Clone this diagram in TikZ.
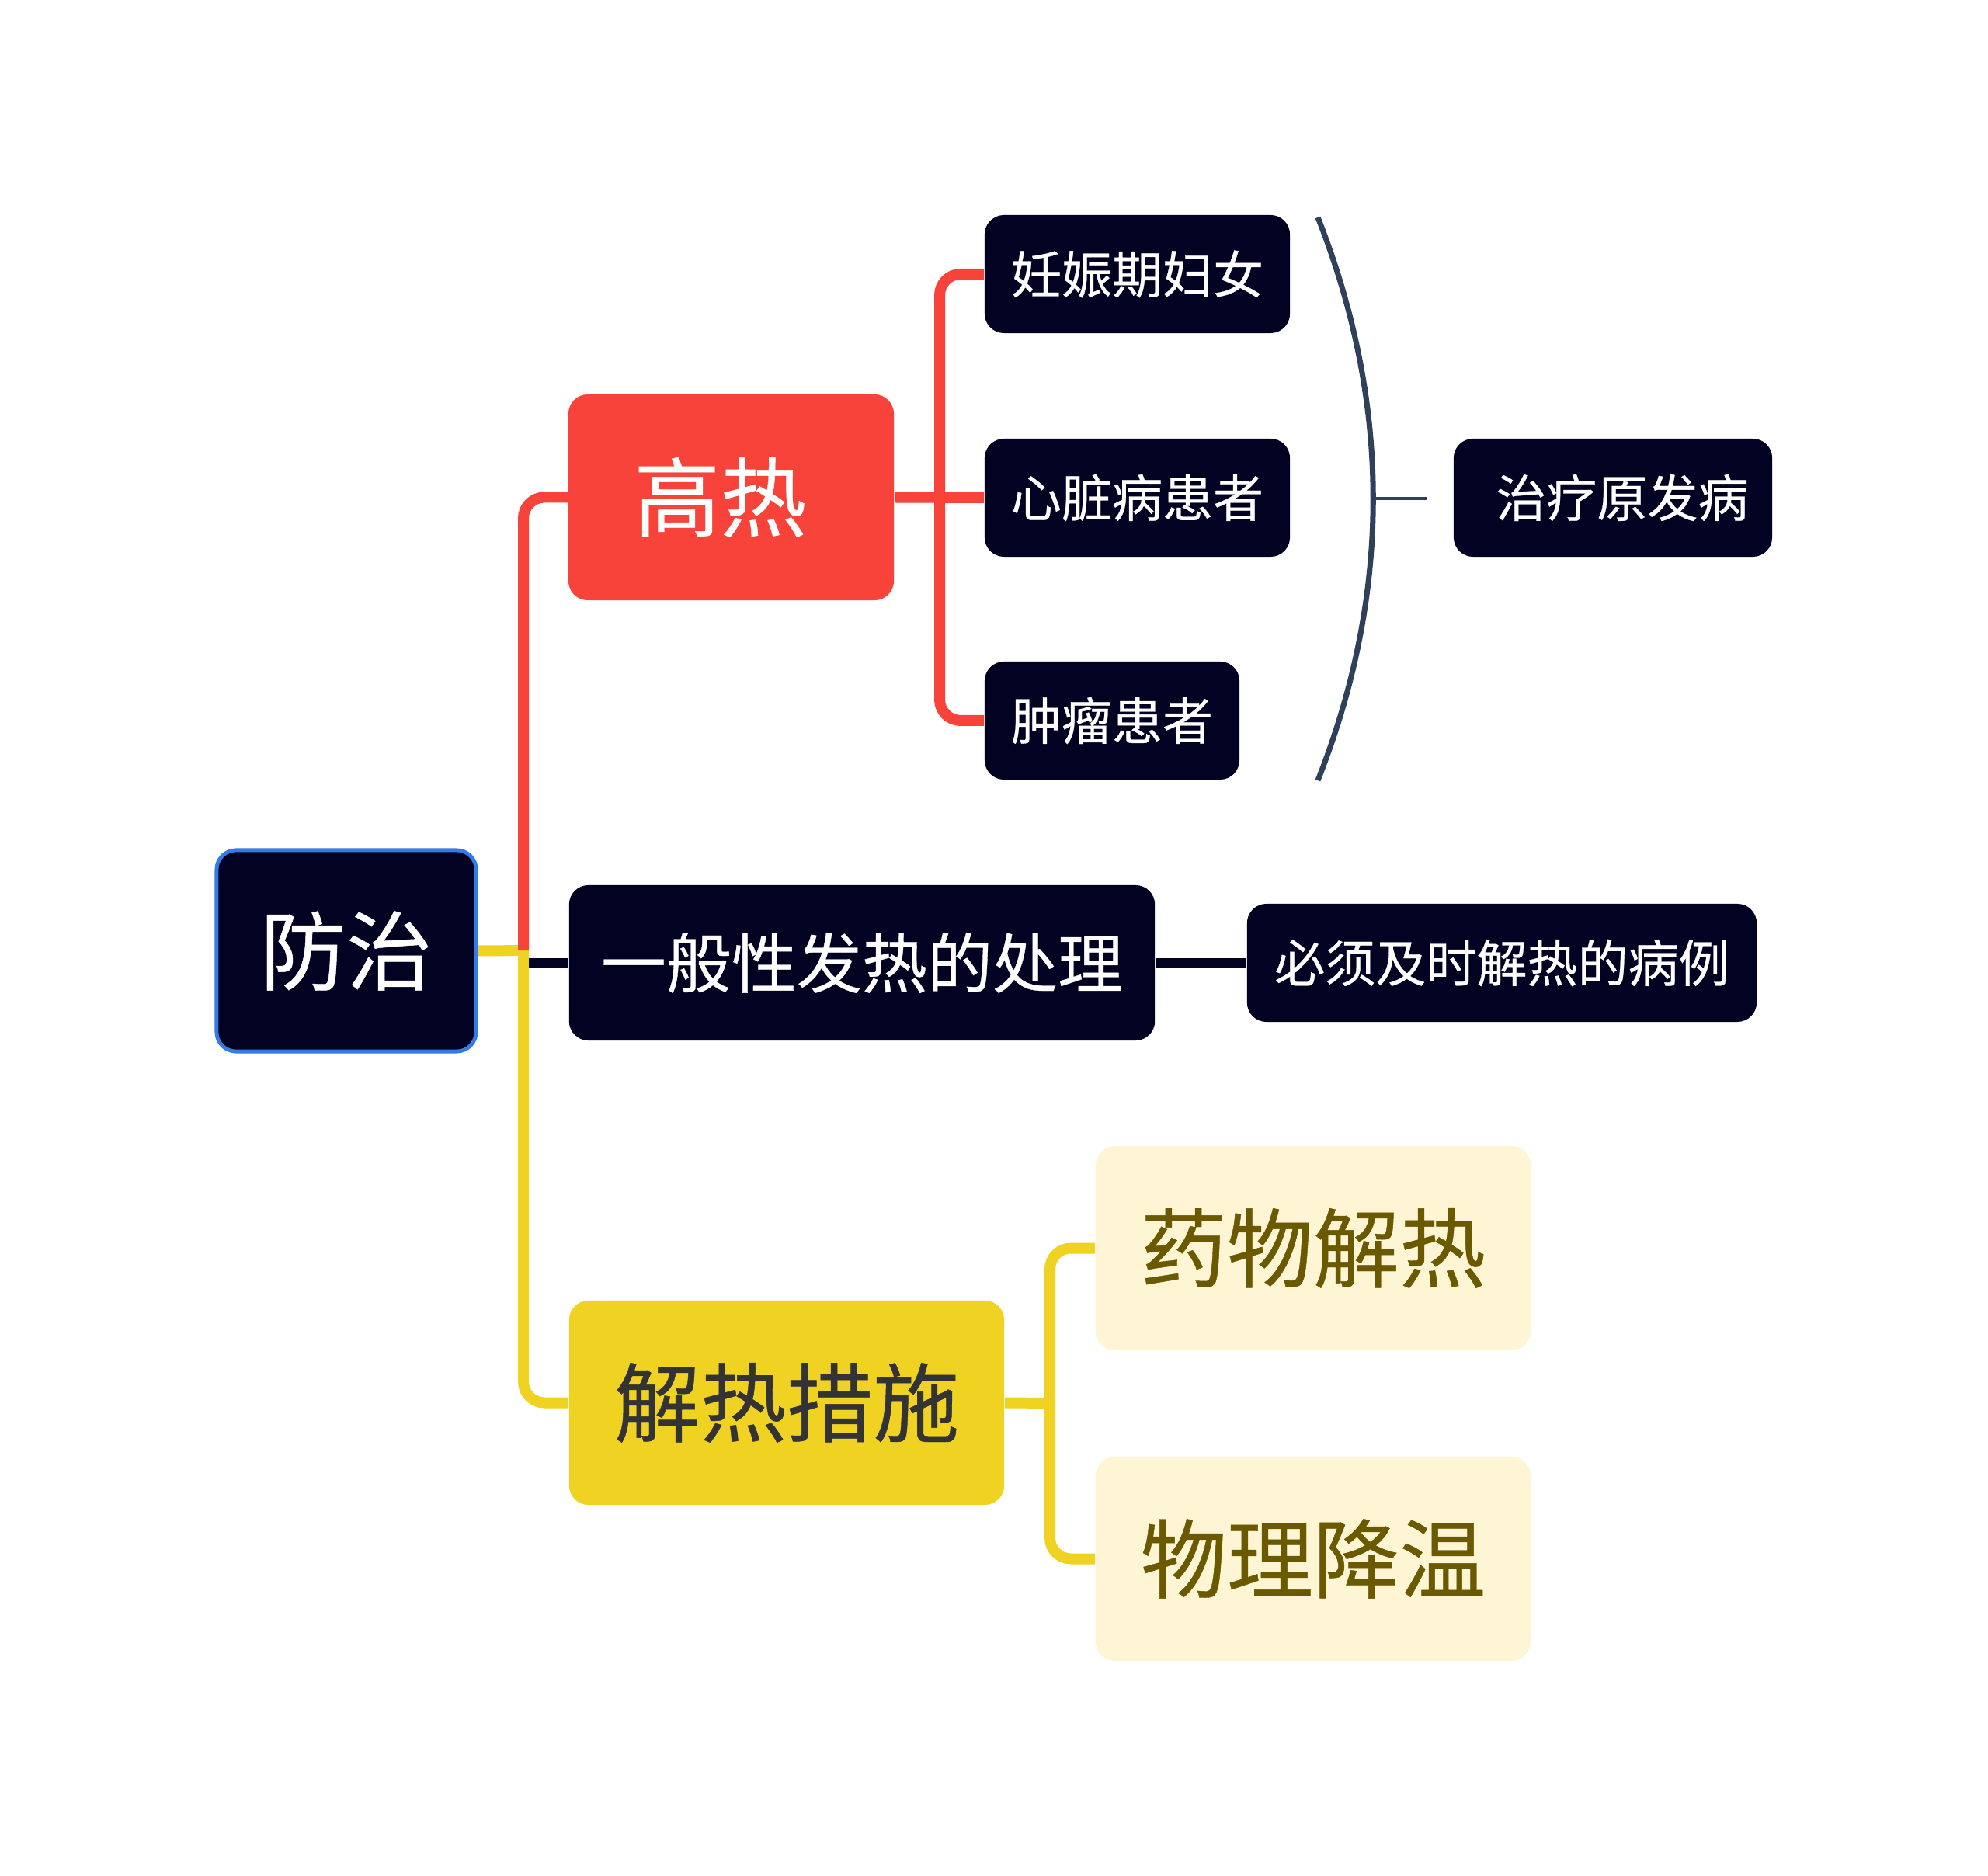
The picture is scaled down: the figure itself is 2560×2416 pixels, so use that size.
\documentclass[tikz,border=0pt]{standalone}
\usepackage{fontspec}
\newfontfamily\cjk[FakeBold=0.4]{Noto Sans CJK SC}
\newcommand\szbig{\fontsize{31.6pt}{32pt}\selectfont}
\newcommand\szmid{\fontsize{23.9pt}{24pt}\selectfont}
\newcommand\szsmall{\fontsize{18.5pt}{19pt}\selectfont}
\definecolor{navy}{RGB}{2,2,35}
\definecolor{rootblue}{RGB}{52,122,232}
\definecolor{hotred}{RGB}{247,67,58}
\definecolor{warmyellow}{RGB}{240,210,35}
\definecolor{paleyellow}{RGB}{253,245,212}
\definecolor{olive}{RGB}{107,89,0}
\definecolor{darkgray}{RGB}{51,51,51}
\definecolor{slate}{RGB}{47,64,90}
\begin{document}
\begin{tikzpicture}[x=0.01cm,y=-0.01cm,
  box/.style={rounded corners=0.25cm, inner sep=0pt, align=center},
  darkbox/.style={box, fill=navy, text=white, font=\cjk\szsmall, minimum height=1.52cm},
  bigbox/.style={box, font=\cjk\szbig, minimum height=2.63cm, minimum width=5.6cm},
  redline/.style={draw=hotred, line width=3.98pt, rounded corners=0.27cm},
  yelline/.style={draw=warmyellow, line width=3.98pt, rounded corners=0.27cm},
  navyline/.style={draw=navy, line width=3.5pt},
  bracket/.style={draw=slate, line width=2pt},
  tickline/.style={draw=slate, line width=1.4pt}]
\fill[white] (0,0) rectangle (2560,2416);
\useasboundingbox (0,0) rectangle (2560,2416);

% nodes
\node[box, fill=navy, draw=rootblue, line width=1.4pt, text=white, font=\cjk\szbig,
      minimum width=3.34cm, minimum height=2.59cm] (root) at (446,1224.5) {防治};
\node[bigbox, fill=hotred, text=white, minimum width=4.19cm, minimum height=2.65cm] (gaore) at (941.5,640.5) {高热\hspace*{0.28cm}};
\node[box, fill=navy, text=white, font=\cjk\szmid, minimum width=7.54cm, minimum height=2.0cm] (general) at (1110,1240) {一般性发热的处理};
\node[bigbox, fill=warmyellow, text=darkgray] (jiere) at (1013,1806.5) {解热措施};
\node[darkbox, minimum width=3.93cm] (a1) at (1464.5,353) {妊娠期妇女};
\node[darkbox, minimum width=3.93cm] (a2) at (1464.5,641) {心脏病患者};
\node[darkbox, minimum width=3.28cm] (a3) at (1432,928) {肿瘤患者};
\node[darkbox, minimum width=4.10cm] (cure) at (2077,641) {\hspace*{0.24cm}治疗原发病};
\node[darkbox, minimum width=6.56cm] (must) at (1934,1240) {必须及时解热的病例};
\node[bigbox, fill=paleyellow, text=olive] (b1) at (1691,1607.5) {药物解热};
\node[bigbox, fill=paleyellow, text=olive] (b2) at (1691,2007.5) {物理降温};

% junction coordinates
\coordinate (j) at (674,1224);
\coordinate (jy) at (681,1224);
\coordinate (jtop) at (674,1217);
\coordinate (jd) at (681,1240);
\coordinate (k) at (1210,641);
\coordinate (m) at (1352,1807);

% root branches
\draw[yelline] (root.east) -- (jy);
\draw[yelline] (jtop) |- (jiere.west);
\draw[redline] (j) |- (gaore.west);
\draw[navyline] (jd) -- (general.west);

% high fever branches
\draw[redline] (gaore.east) -- (a2.west);
\draw[redline] (a1.west) -| (k) |- (a3.west);

% general branch
\draw[navyline] (general.east) -- (must.west);

% measures branches
\draw[yelline] (jiere.east) -- (m);
\draw[yelline] (b1.west) -| (m) |- (b2.west);

% bracket
\coordinate (btop) at (1697,280);
\coordinate (bbot) at (1697,1005);
\coordinate (bmid) at (1768,642);
\coordinate (btick) at (1837,642);
\draw[bracket] (btop) .. controls (1792,520) and (1792,765) .. (bbot);
\draw[tickline] (bmid) -- (btick);
\end{tikzpicture}
\end{document}
